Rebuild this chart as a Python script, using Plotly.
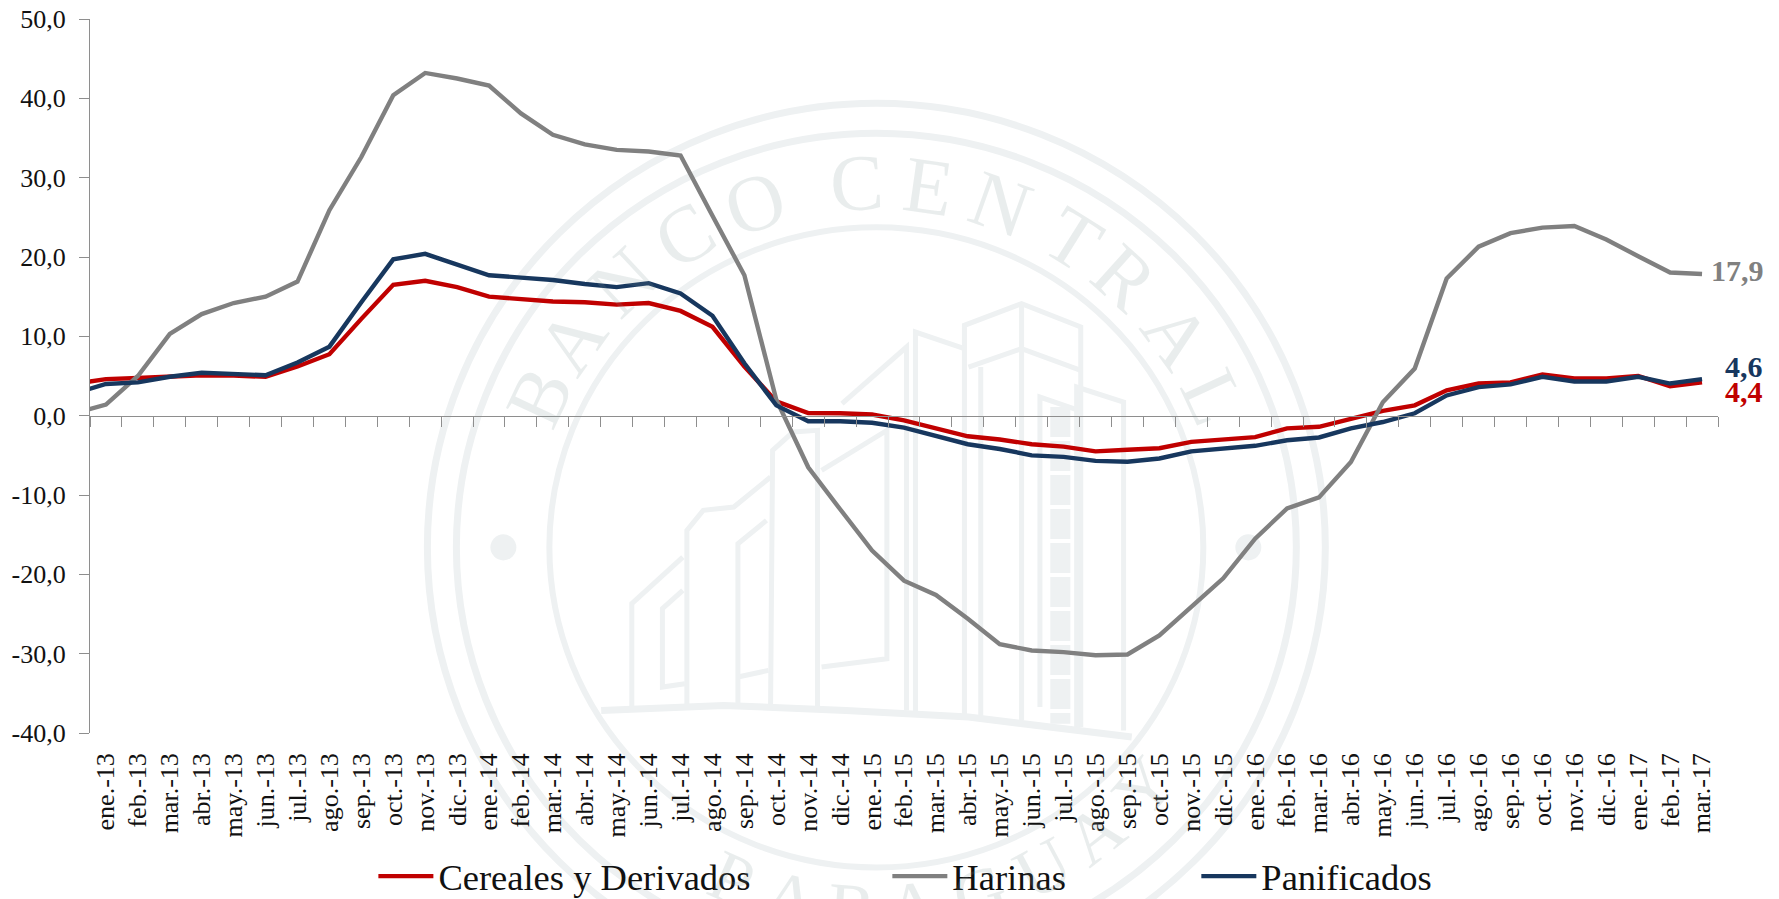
import math
import plotly.graph_objects as go

# ---- data ----
meses = ["ene.-13","feb.-13","mar.-13","abr.-13","may.-13","jun.-13","jul.-13","ago.-13","sep.-13","oct.-13","nov.-13","dic.-13",
         "ene.-14","feb.-14","mar.-14","abr.-14","may.-14","jun.-14","jul.-14","ago.-14","sep.-14","oct.-14","nov.-14","dic.-14",
         "ene.-15","feb.-15","mar.-15","abr.-15","may.-15","jun.-15","jul.-15","ago.-15","sep.-15","oct.-15","nov.-15","dic.-15",
         "ene.-16","feb.-16","mar.-16","abr.-16","may.-16","jun.-16","jul.-16","ago.-16","sep.-16","oct.-16","nov.-16","dic.-16",
         "ene.-17","feb.-17","mar.-17"]
# first value of each series is the month before the axis starts (clipped by the axis)
cereales = [4.0,4.6,4.75,4.9,5.1,5.05,4.9,6.2,7.75,12.2,16.5,17.0,16.2,15.0,14.7,14.4,14.3,14.0,14.2,13.2,11.2,6.2,1.8,
            0.33,0.3,0.15,-0.6,-1.6,-2.6,-3.0,-3.6,-3.9,-4.5,-4.3,-4.1,-3.3,-3.0,-2.7,-1.6,-1.4,-0.4,0.6,1.3,3.2,4.05,4.2,5.2,4.7,4.7,5.0,3.7,4.2]
harinas = [0.3,1.4,5.0,10.3,12.8,14.2,15.0,16.9,25.9,32.6,40.4,43.2,42.5,41.6,38.1,35.4,34.2,33.5,33.3,32.8,25.2,17.7,2.0,
           -6.5,-11.8,-17.0,-20.8,-22.6,-25.6,-28.8,-29.6,-29.8,-30.2,-30.1,-27.7,-24.1,-20.5,-15.5,-11.7,-10.3,-5.85,1.7,5.95,17.3,21.3,23.0,23.7,23.9,22.2,20.1,18.05,17.85]
panificados = [2.8,4.0,4.2,4.9,5.4,5.2,5.1,6.7,8.7,14.3,19.7,20.4,19.1,17.7,17.4,17.1,16.6,16.2,16.7,15.4,12.6,6.6,1.3,
               -0.7,-0.7,-0.9,-1.5,-2.5,-3.6,-4.2,-5.0,-5.2,-5.7,-5.8,-5.4,-4.5,-4.2,-3.8,-3.1,-2.75,-1.6,-0.8,0.3,2.55,3.6,3.95,4.9,4.3,4.3,4.9,4.05,4.6]
y_ticks = [50,40,30,20,10,0,-10,-20,-30,-40]
y_labels = ["50,0","40,0","30,0","20,0","10,0","0,0","-10,0","-20,0","-30,0","-40,0"]
etiquetas_finales = ["4,4","17,9","4,6"]

# ---- layout geometry (pixels) ----
W, H = 1779, 899
L, R, T, B = 89.6, 1717.7, 18.7, 732.6
px = lambda x: (x - L) / (R - L)
py = lambda y: (B - y) / (B - T)

ROJO, GRIS, AZUL = "#C00000", "#808080", "#17375E"
FONT = "Liberation Serif"
WM = "#EEF1F2"
WM_TXT = "rgba(125,150,150,0.17)"
AXIS = "#8E8E8E"

x_vals = list(range(-1, len(meses)))
x_rng = [-0.5, len(meses) - 0.5]
fronteras = [i - 0.5 for i in range(len(meses) + 1)]

fig = go.Figure()
for nombre, vals, col, leg in [("Cereales y Derivados", cereales, ROJO, "legend"),
                               ("Harinas", harinas, GRIS, "legend2"),
                               ("Panificados", panificados, AZUL, "legend3")]:
    fig.add_trace(go.Scatter(x=x_vals, y=vals, name=nombre, mode="lines", legend=leg,
                             line=dict(color=col, width=4.4)))
# carrier for the overlaid axis that draws the zero line and its ticks
fig.add_trace(go.Scatter(x=[None], y=[None], xaxis="x2", showlegend=False, hoverinfo="skip"))

# ---- watermark (seal) ----
CX, CY = 876, 554
RING_CY = 547
shapes = []
def ring(rx, ry, w):
    shapes.append(dict(type="circle", xref="paper", yref="paper", layer="below",
                       x0=px(CX - rx), x1=px(CX + rx), y0=py(RING_CY + ry), y1=py(RING_CY - ry),
                       line=dict(color=WM, width=w)))
ring(449, 444, 7); ring(420, 414, 7); ring(327, 320, 6)
for cx in (503, 1248):
    shapes.append(dict(type="circle", xref="paper", yref="paper", layer="below",
                       x0=px(cx - 13), x1=px(cx + 13), y0=py(547 + 13), y1=py(547 - 13),
                       fillcolor=WM, line=dict(width=0)))
def zx(v): return 560 + v / 2.45
def zy(v): return 280 + v / 3
def poly(pts, w=5):
    d = " ".join(("M" if i == 0 else "L") + f"{px(zx(a)):.5f},{py(zy(b)):.5f}" for i, (a, b) in enumerate(pts))
    shapes.append(dict(type="path", path=d, xref="paper", yref="paper", layer="below",
                       line=dict(color=WM, width=w)))
for pts in [
    [(990,1310),(990,135),(1130,70),(1275,140),(1275,1340)],
    [(1000,260),(1130,205),(1275,270)],
    [(1130,70),(1130,1320)],
    [(1030,260),(1030,1310)],
    [(990,205),(870,155),(870,1300)],
    [(848,1290),(848,200),(690,370)],
    [(640,570),(800,450),(800,1135),(640,1160)],
    [(630,1280),(630,450),(570,455),(520,510),(515,1280)],
    [(515,590),(425,680),(350,690),(310,750),(310,1280)],
    [(505,720),(435,790),(435,1280)],
    [(435,1190),(510,1170)],
    [(300,830),(175,970),(175,1280)],
    [(300,930),(250,985),(250,1220),(305,1210)],
    [(1265,1340),(1265,320),(1380,365),(1380,1350)],
    [(1175,1280),(1175,350),(1270,390)],
]:
    poly(pts)
poly([(100,1290),(400,1275),(700,1290),(1000,1310),(1400,1370)], w=7)
d = f"M{px(zx(1225)):.5f},{py(zy(380)):.5f} L{px(zx(1225)):.5f},{py(zy(1330)):.5f}"
shapes.append(dict(type="path", path=d, xref="paper", yref="paper", layer="below",
                   line=dict(color=WM, width=20, dash="30px,4px")))

anns = []
def letra(c, ang, r, top=True, size=80):
    a = math.radians(ang)
    if top:
        x, y, rot = CX + r * math.sin(a), CY - r * math.cos(a), ang
    else:
        x, y, rot = CX + r * math.sin(a), CY + r * math.cos(a), -ang
    anns.append(dict(text=c, x=px(x), y=py(y), xref="paper", yref="paper", xanchor="center", yanchor="middle",
                     showarrow=False, textangle=rot, font=dict(family=FONT, size=size, color=WM_TXT)))
for c, ang in zip("BANCOCENTRAL", [-65,-55,-43,-31,-19,-3,8,19.6,32,42,54,65]):
    letra(c, ang, 372)
for c, ang in zip("PARAGUAY", [-24,-14,-4,6,17,28,38,49]):
    letra(c, ang, 355, top=False, size=72)

# ---- end labels ----
for txt, col, x, y in [(etiquetas_finales[1], GRIS, 1737, 270),
                       (etiquetas_finales[2], AZUL, 1744, 366),
                       (etiquetas_finales[0], ROJO, 1744, 391)]:
    anns.append(dict(text=f"<b>{txt}</b>", x=px(x), y=py(y), xref="paper", yref="paper",
                     xanchor="center", yanchor="middle", showarrow=False,
                     font=dict(family=FONT, size=30, color=col)))

leg_common = dict(orientation="h", yanchor="middle", xanchor="left", y=py(876), bgcolor="rgba(0,0,0,0)",
                  itemwidth=55, font=dict(family=FONT, size=36.5, color="#111111"), borderwidth=0)

fig.update_layout(
    width=W, height=H, autosize=False,
    margin=dict(l=L, r=W - R, t=T, b=H - B, pad=0, autoexpand=False),
    paper_bgcolor="white", plot_bgcolor="rgba(0,0,0,0)",
    font=dict(family=FONT, color="#111111"),
    shapes=shapes, annotations=anns,
    legend=dict(x=px(373), **leg_common),
    legend2=dict(x=px(887), **leg_common),
    legend3=dict(x=px(1196), **leg_common),
    xaxis=dict(range=x_rng, tickmode="array", tickvals=list(range(len(meses))), ticktext=meses,
               tickangle=-90, ticks="", showline=False, showgrid=False, zeroline=False,
               tickfont=dict(family=FONT, size=26, color="#111111"), ticklabelstandoff=14,
               automargin=False),
    xaxis2=dict(range=x_rng, overlaying="x", anchor="free", position=py(415.3), side="bottom",
                tickmode="array", tickvals=fronteras, ticks="outside", ticklen=10, tickwidth=1.3,
                tickcolor=AXIS, showline=True, linecolor=AXIS, linewidth=1.3,
                showticklabels=False, showgrid=False, zeroline=False),
    yaxis=dict(range=[-40, 50], tickmode="array", tickvals=y_ticks, ticktext=y_labels,
               ticks="outside", ticklen=10, tickwidth=1.3, tickcolor=AXIS, showline=True,
               linecolor=AXIS, linewidth=1.3, showgrid=False, zeroline=False,
               tickfont=dict(family=FONT, size=26, color="#111111"), ticklabelstandoff=8,
               automargin=False),
)
fig.write_html("out.html", config=dict(displayModeBar=False),
               post_script="document.body.style.margin='0';document.documentElement.style.overflow='hidden';")
